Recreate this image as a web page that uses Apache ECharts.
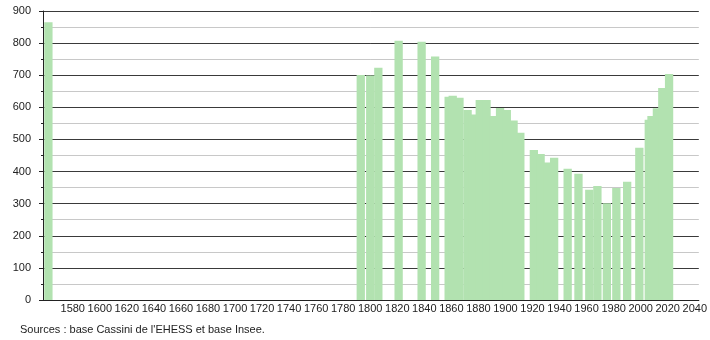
<!DOCTYPE html>
<html>
<head>
<meta charset="utf-8">
<script src="https://cdn.jsdelivr.net/npm/echarts@6/dist/echarts.min.js"></script>
<style>
html,body{margin:0;padding:0;background:#fff;}
#c{width:710px;height:340px;}
</style>
</head>
<body>
<div id="c"></div>
<script>
const years = [1562, 1793, 1800, 1806, 1821, 1838, 1848, 1858, 1861, 1866, 1872, 1876, 1881, 1886, 1891, 1896, 1901, 1906, 1911, 1921, 1926, 1931, 1936, 1946, 1954, 1962, 1968, 1975, 1982, 1990, 1999, 2006, 2008, 2012, 2016, 2021];
const population = [865, 701, 699, 723, 807, 804, 758, 633, 636, 630, 592, 578, 623, 623, 573, 598, 592, 559, 521, 467, 455, 428, 443, 409, 393, 343, 355, 301, 349, 368, 474, 561, 573, 597, 660, 704];
const xTickLabels = [1580, 1600, 1620, 1640, 1660, 1680, 1700, 1720, 1740, 1760, 1780, 1800, 1820, 1840, 1860, 1880, 1900, 1920, 1940, 1960, 1980, 2000, 2020, 2040];
const yTickLabels = [0, 100, 200, 300, 400, 500, 600, 700, 800, 900];
const sourceText = "Sources : base Cassini de l'EHESS et base Insee.";

const chart = echarts.init(document.getElementById('c'), null, {renderer: 'canvas'});
const font = '"Liberation Sans", Arial, Helvetica, sans-serif';
chart.setOption({
  animation: false,
  backgroundColor: '#fff',
  grid: {left: 43, right: 9, top: 11, bottom: 40, containLabel: false},
  xAxis: {
    type: 'value',
    min: 1558,
    max: 2043,
    axisLine: {show: true, lineStyle: {color: '#222', width: 1}},
    axisTick: {show: false},
    splitLine: {show: false},
    axisLabel: {
      customValues: xTickLabels,
      formatter: v => String(v),
      hideOverlap: false,
      interval: 0,
      color: '#222', fontSize: 11, fontFamily: font, margin: 3,
      showMinLabel: true, showMaxLabel: true
    }
  },
  yAxis: {
    type: 'value',
    min: yTickLabels[0],
    max: yTickLabels[yTickLabels.length - 1],
    interval: 100,
    axisLine: {show: true, lineStyle: {color: '#222', width: 1}},
    axisTick: {show: true, length: 4, lineStyle: {color: '#222'}},
    minorTick: {show: true, splitNumber: 2, length: 2, lineStyle: {color: '#222'}},
    splitLine: {show: true, lineStyle: {color: '#3a3a3a', width: 1}},
    minorSplitLine: {show: true, lineStyle: {color: '#c8c8c8', width: 1}},
    axisLabel: {color: '#222', fontSize: 11, fontFamily: font, margin: 12, formatter: v => String(v)}
  },
  series: [{
    type: 'bar',
    data: years.map((y, i) => [y, population[i]]),
    barWidth: 8.3,
    itemStyle: {color: '#b2e2b0'},
    emphasis: {disabled: true}
  }],
  graphic: [{
    type: 'text',
    left: 20,
    top: 324,
    style: {text: sourceText, fill: '#222', fontSize: 11, fontFamily: font}
  }]
});
</script>
</body>
</html>
